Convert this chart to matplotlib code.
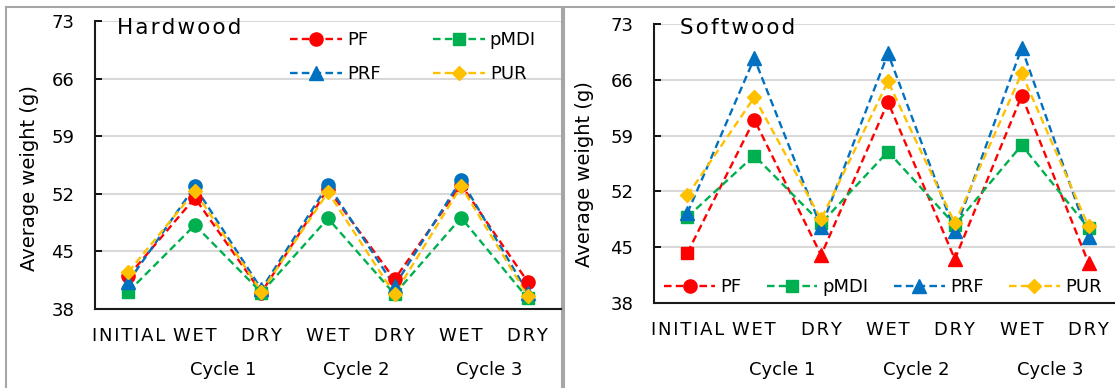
import matplotlib
matplotlib.use("Agg")
import matplotlib.pyplot as plt
from matplotlib.lines import Line2D
from matplotlib.patches import Rectangle
from matplotlib.transforms import blended_transform_factory

# ---------------- data ----------------
stages = ["INITIAL", "WET", "DRY", "WET", "DRY", "WET", "DRY"]
cycles = ["Cycle 1", "Cycle 2", "Cycle 3"]
series_names = ["PF", "pMDI", "PRF", "PUR"]

hard_pf = [42.0, 51.5, 40.0, 52.6, 41.6, 53.1, 41.3]
hard_pmdi = [40.1, 48.2, 40.0, 49.0, 39.8, 49.1, 39.3]
hard_prf = [41.3, 52.9, 40.4, 53.1, 40.8, 53.7, 40.0]
hard_pur = [42.5, 52.3, 40.1, 52.2, 39.8, 52.9, 39.6]

soft_pf = [44.3, 61.0, 44.0, 63.2, 43.5, 64.0, 43.0]
soft_pmdi = [48.8, 56.5, 48.0, 57.0, 47.8, 57.8, 47.4]
soft_prf = [49.3, 68.7, 47.5, 69.3, 47.0, 70.0, 46.3]
soft_pur = [51.5, 63.8, 48.5, 65.8, 48.0, 66.8, 47.6]

y_ticks = [38, 45, 52, 59, 66, 73]

# ---------------- styles ----------------
colors = ["#FF0000", "#00B050", "#0070C0", "#FFC000"]
legend_markers = ["o", "s", "^", "D"]
msize = {"o": 9.5, "s": 8.5, "^": 9.5, "D": 7}

hard_markers = [
    ["o", "o", "o", "o", "o", "o", "o"],
    ["s", "o", "s", "o", "s", "o", "s"],
    ["^", "o", "^", "o", "^", "o", "^"],
    ["D", "D", "D", "D", "D", "D", "D"],
]
soft_markers = [
    ["s", "o", "^", "o", "^", "o", "^"],
    ["s", "s", "s", "s", "s", "s", "s"],
    ["^", "^", "^", "^", "^", "^", "^"],
    ["D", "D", "D", "D", "D", "D", "D"],
]

W, H = 1115, 388
fig = plt.figure(figsize=(W / 100, H / 100), dpi=100)
plt.rcParams["font.family"] = ["DejaVu Sans"]

HAIR = "\u200a"


def spaced(s):
    return HAIR.join(s)


def fx(px):
    return px / W


def fy(py):
    return 1 - py / H


# panel frames
for (x0, x1) in [(6, 562), (564, 1118)]:
    fig.add_artist(Rectangle((fx(x0), fy(395)), fx(x1 - x0), (395 - 7) / H,
                             transform=fig.transFigure, fill=False,
                             edgecolor="#A6A6A6", lw=1.5, zorder=0))

dash = (0, (3.2, 1.8))


def draw(ax, data, markers, title, title_x):
    x = list(range(len(stages)))
    for vals, mk, c in zip(data, markers, colors):
        ax.plot(x, vals, color=c, lw=1.7, linestyle=dash, zorder=3)
        for xi, v, m in zip(x, vals, mk):
            ax.plot([xi], [v], marker=m, color=c, markersize=msize[m],
                    linestyle="none", zorder=4)
    ax.set_xlim(-0.5, len(stages) - 0.5)
    ax.set_ylim(38, 73)
    ax.set_yticks(y_ticks)
    ax.set_yticklabels([str(t) for t in y_ticks], fontsize=13)
    ax.set_xticks(x)
    ax.set_xticklabels([spaced(s) for s in stages], fontsize=13)
    ax.tick_params(axis="x", length=0, pad=13)
    ax.tick_params(axis="y", length=5, width=1.3, direction="in", pad=15)
    ax.grid(axis="y", color="#D9D9D9", lw=1.5, zorder=0)
    ax.set_axisbelow(True)
    for s in ["top", "right"]:
        ax.spines[s].set_visible(False)
    for s in ["left", "bottom"]:
        ax.spines[s].set_linewidth(1.5)
        ax.spines[s].set_color("#1a1a1a")
    ax.patch.set_alpha(0)
    tr = blended_transform_factory(ax.transData, fig.transFigure)
    for i, cl in enumerate(cycles):
        ax.text(1.42 + 2 * i, fy(370), cl, transform=tr,
                ha="center", va="center", fontsize=13)
    fig.text(fx(title_x), fy(28), spaced(title), fontsize=15.5, ha="left",
             va="center")


ax1 = fig.add_axes([fx(95), fy(309), fx(561 - 95), (309 - 21) / H])
draw(ax1, [hard_pf, hard_pmdi, hard_prf, hard_pur], hard_markers,
     "Hardwood", 117)
ax2 = fig.add_axes([fx(654), fy(303), fx(1122 - 654), (303 - 24) / H])
draw(ax2, [soft_pf, soft_pmdi, soft_prf, soft_pur], soft_markers,
     "Softwood", 680)

fig.text(fx(30), fy(178), "Average weight (g)", rotation=90, fontsize=14,
         ha="center", va="center")
fig.text(fx(585), fy(174), "Average weight (g)", rotation=90, fontsize=14,
         ha="center", va="center")

handles = [Line2D([], [], color=c, lw=1.7, linestyle=dash, marker=m,
                  markersize=msize[m])
           for c, m in zip(colors, legend_markers)]

# left legend 2x2: order row-wise PF, pMDI / PRF, PUR
order = [0, 2, 1, 3]
leg1 = fig.legend([handles[i] for i in order], [series_names[i] for i in order],
                  ncol=2, loc="center", bbox_to_anchor=(fx(413), fy(57)),
                  frameon=False, fontsize=13, handlelength=2.9,
                  handletextpad=0.25, columnspacing=2.9, labelspacing=0.9,
                  borderpad=0)
leg2 = fig.legend(handles, series_names, ncol=4, loc="center",
                  bbox_to_anchor=(fx(883), fy(287)), frameon=False,
                  fontsize=13, handlelength=2.8, handletextpad=0.3,
                  columnspacing=1.4, borderpad=0)

fig.savefig("out.png", dpi=100)
